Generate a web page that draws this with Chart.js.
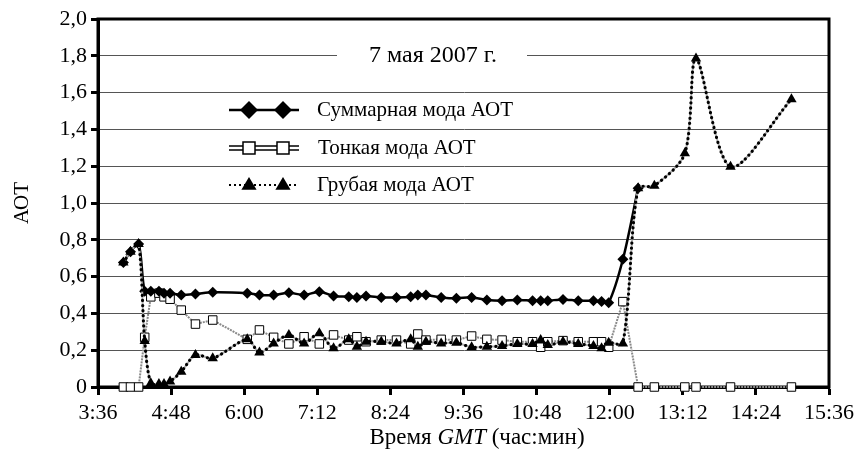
<!DOCTYPE html>
<html>
<head>
<meta charset="utf-8">
<script src="https://cdn.jsdelivr.net/npm/chart.js@4"></script>
<style>
html, body { margin: 0; padding: 0; background: #fff; }
#wrap { width: 863px; height: 453px; }
</style>
</head>
<body>
<div id="wrap"><canvas id="chart" width="863" height="453"></canvas></div>
<script>
// время наблюдений (GMT, час:мин)
const times = ['4:01', '4:08', '4:16', '4:22', '4:28', '4:36', '4:41', '4:47', '4:58', '5:12',
    '5:29', '6:03', '6:15', '6:29', '6:44', '6:59', '7:14', '7:28', '7:43', '7:51',
    '8:00', '8:15', '8:30', '8:44', '8:51', '8:59', '9:14', '9:29', '9:44', '9:59',
    '10:14', '10:29', '10:44', '10:52', '10:59', '11:14', '11:29', '11:44', '11:52', '11:59',
    '12:13', '12:28', '12:44', '13:14', '13:25', '13:59', '14:59'];

const totalAot = [0.676, 0.735, 0.777, 0.52, 0.52, 0.52, 0.51, 0.51, 0.50, 0.505,
    0.515, 0.51, 0.50, 0.50, 0.512, 0.50, 0.518, 0.495, 0.491, 0.487,
    0.495, 0.487, 0.487, 0.491, 0.50, 0.50, 0.487, 0.482, 0.487, 0.473,
    0.469, 0.473, 0.469, 0.469, 0.469, 0.476, 0.469, 0.469, 0.464, 0.458,
    0.694, 1.08, null, null, null, null, null];

const fineAot = [0, 0, 0, 0.27, 0.49, 0.51, 0.49, 0.477, 0.418, 0.342,
    0.364, 0.259, 0.31, 0.27, 0.234, 0.273, 0.234, 0.283, 0.255, 0.273,
    0.246, 0.255, 0.255, 0.234, 0.288, 0.255, 0.259, 0.255, 0.277, 0.259,
    0.255, 0.246, 0.246, 0.216, 0.246, 0.252, 0.246, 0.246, 0.246, 0.216,
    0.464, 0, 0, 0, 0, 0, 0];

const coarseAot = [0.676, 0.735, 0.777, 0.25, 0.02, 0.016, 0.016, 0.03, 0.083, 0.174,
    0.156, 0.259, 0.187, 0.237, 0.283, 0.237, 0.292, 0.21, 0.259, 0.219,
    0.246, 0.246, 0.237, 0.259, 0.219, 0.246, 0.237, 0.241, 0.216, 0.219,
    0.223, 0.234, 0.234, 0.255, 0.228, 0.246, 0.234, 0.223, 0.21, 0.241,
    0.237, 1.08, 1.094, 1.27, 1.786, 1.197, 1.564];

const xTickLabels = ['3:36', '4:48', '6:00', '7:12', '8:24', '9:36', '10:48', '12:00', '13:12', '14:24', '15:36'];
const yTickLabels = ['0', '0,2', '0,4', '0,6', '0,8', '1,0', '1,2', '1,4', '1,6', '1,8', '2,0'];

const seriesNames = ['Суммарная мода АОТ', 'Тонкая мода АОТ', 'Грубая мода АОТ'];
const chartTitle = '7 мая 2007 г.';

const FONT = '"Liberation Serif", "Times New Roman", serif';

const toMinutes = (t) => {
    const [h, m] = t.split(':').map(Number);
    return h * 60 + m;
};
const fmtTime = (v) => {
    const m = Math.round(v);
    return Math.floor(m / 60) + ':' + String(m % 60).padStart(2, '0');
};
const toPoints = (values) => times.map((t, i) => ({ x: toMinutes(t), y: values[i] }));

// рамка вокруг области построения
const frame = {
    id: 'frame',
    beforeDatasetsDraw(chart) {
        const { ctx, chartArea: a } = chart;
        ctx.save();
        ctx.strokeStyle = '#000';
        ctx.lineWidth = 3;
        ctx.strokeRect(a.left, a.top, a.right - a.left, a.bottom - a.top);
        ctx.restore();
    },
    // серая подложка под точечной линией грубой моды
    beforeDatasetDraw(chart, args) {
        if (args.index !== 2) return;
        const line = args.meta.dataset;
        const ctx = chart.ctx;
        line.updateControlPoints(chart.chartArea, 'x');
        ctx.save();
        ctx.beginPath();
        line.path(ctx);
        ctx.strokeStyle = '#b0b0b0';
        ctx.lineWidth = 2;
        ctx.stroke();
        ctx.restore();
    }
};

const drawDiamond = (ctx, x, y, r) => {
    ctx.beginPath();
    ctx.moveTo(x, y - r); ctx.lineTo(x + r, y); ctx.lineTo(x, y + r); ctx.lineTo(x - r, y);
    ctx.closePath();
    ctx.fillStyle = '#000';
    ctx.fill();
};
const drawSquare = (ctx, x, y, s) => {
    ctx.fillStyle = '#fff';
    ctx.fillRect(x - s / 2, y - s / 2, s, s);
    ctx.strokeStyle = '#000';
    ctx.lineWidth = 1.5;
    ctx.strokeRect(x - s / 2, y - s / 2, s, s);
};
const drawTriangle = (ctx, x, y, r) => {
    ctx.beginPath();
    ctx.moveTo(x, y - r);
    ctx.lineTo(x + r * 0.95, y + r * 0.6);
    ctx.lineTo(x - r * 0.95, y + r * 0.6);
    ctx.closePath();
    ctx.fillStyle = '#000';
    ctx.fill();
};

// заголовок, легенда и подписи осей
const annotations = {
    id: 'annotations',
    afterDraw(chart) {
        const ctx = chart.ctx;
        const a = chart.chartArea;
        ctx.save();

        // заголовок на белой плашке
        ctx.fillStyle = '#fff';
        ctx.fillRect(337, 40, 190, 31);
        ctx.fillStyle = '#000';
        ctx.font = '24px ' + FONT;
        ctx.textAlign = 'center';
        ctx.textBaseline = 'middle';
        ctx.fillText(chartTitle, 433, 56);

        // легенда
        const x0 = 229, x1 = 299, m1 = 249, m2 = 283, tx = 317;
        const rows = [110, 148, 185];
        ctx.textAlign = 'left';
        ctx.font = '21px ' + FONT;

        let y = rows[0];
        ctx.strokeStyle = '#000';
        ctx.lineWidth = 2.5;
        ctx.beginPath(); ctx.moveTo(x0, y); ctx.lineTo(x1, y); ctx.stroke();
        drawDiamond(ctx, m1, y, 9);
        drawDiamond(ctx, m2, y, 9);
        ctx.fillStyle = '#000';
        ctx.fillText(seriesNames[0], tx, y);

        y = rows[1];
        ctx.lineWidth = 1.3;
        ctx.beginPath();
        ctx.moveTo(x0, y - 2); ctx.lineTo(x1, y - 2);
        ctx.moveTo(x0, y + 2); ctx.lineTo(x1, y + 2);
        ctx.stroke();
        drawSquare(ctx, m1, y, 12);
        drawSquare(ctx, m2, y, 12);
        ctx.fillStyle = '#000';
        ctx.fillText(seriesNames[1], tx + 1, y);

        y = rows[2];
        ctx.lineWidth = 2;
        ctx.setLineDash([2, 3]);
        ctx.beginPath(); ctx.moveTo(x0, y); ctx.lineTo(x1, y); ctx.stroke();
        ctx.setLineDash([]);
        drawTriangle(ctx, m1, y, 8);
        drawTriangle(ctx, m2, y, 8);
        ctx.fillStyle = '#000';
        ctx.fillText(seriesNames[2], tx, y);

        // подпись оси X: «Время GMT (час:мин)», GMT курсивом
        const parts = [['Время ', 'normal'], ['GMT', 'italic'], [' (час:мин)', 'normal']];
        let w = 0;
        parts.forEach(([s, st]) => { ctx.font = st + ' 23px ' + FONT; w += ctx.measureText(s).width; });
        let px = 477 - w / 2;
        ctx.textBaseline = 'middle';
        parts.forEach(([s, st]) => {
            ctx.font = st + ' 23px ' + FONT;
            ctx.fillText(s, px, 438);
            px += ctx.measureText(s).width;
        });

        // подпись оси Y
        ctx.translate(22, (a.top + a.bottom) / 2);
        ctx.rotate(-Math.PI / 2);
        ctx.textAlign = 'center';
        ctx.font = '21px ' + FONT;
        ctx.fillText('АОТ', 0, 0);
        ctx.restore();
    }
};

Chart.defaults.font.family = FONT;
Chart.defaults.color = '#000';

new Chart(document.getElementById('chart').getContext('2d'), {
    type: 'line',
    data: {
        datasets: [{
            label: seriesNames[0],
            data: toPoints(totalAot),
            borderColor: '#000',
            borderWidth: 2.5,
            tension: 0.3,
            pointStyle: 'rectRot',
            pointRadius: 5.5,
            pointBackgroundColor: '#000',
            pointBorderColor: '#000',
            pointBorderWidth: 0,
            clip: 10,
            order: 1
        }, {
            label: seriesNames[1],
            data: toPoints(fineAot),
            borderColor: '#8a8a8a',
            borderWidth: 2,
            borderDash: [2, 1],
            tension: 0,
            pointStyle: 'rect',
            pointRadius: 6,
            pointBackgroundColor: '#fff',
            pointBorderColor: '#000',
            pointBorderWidth: 1,
            clip: 10,
            order: 2
        }, {
            label: seriesNames[2],
            data: toPoints(coarseAot),
            borderColor: '#000',
            borderWidth: 3.2,
            borderDash: [0.1, 5],
            borderCapStyle: 'round',
            tension: 0.3,
            pointStyle: 'triangle',
            pointRadius: 6,
            pointBackgroundColor: '#000',
            pointBorderColor: '#000',
            pointBorderWidth: 0,
            clip: 10,
            order: 0
        }]
    },
    options: {
        responsive: false,
        animation: false,
        events: [],
        layout: { padding: { left: 0, right: 34, top: 19, bottom: 0 } },
        plugins: {
            legend: { display: false },
            tooltip: { enabled: false },
            title: { display: false }
        },
        scales: {
            x: {
                type: 'linear',
                min: toMinutes(xTickLabels[0]),
                max: toMinutes(xTickLabels[xTickLabels.length - 1]),
                afterBuildTicks: (scale) => {
                    scale.ticks = xTickLabels.map(t => ({ value: toMinutes(t) }));
                },
                afterFit: (scale) => { scale.height = 66; },
                ticks: {
                    callback: (v) => fmtTime(v),
                    font: { size: 22 },
                    color: '#000',
                    padding: 5,
                    maxRotation: 0,
                    autoSkip: false
                },
                grid: {
                    drawOnChartArea: false,
                    drawTicks: true,
                    tickLength: 8,
                    tickWidth: 3,
                    tickColor: '#000'
                },
                border: { display: true, color: '#000', width: 3 }
            },
            y: {
                min: 0,
                max: 2,
                afterFit: (scale) => { scale.width = 98; },
                ticks: {
                    stepSize: 0.2,
                    callback: (v, i) => yTickLabels[i],
                    font: { size: 22 },
                    color: '#000',
                    padding: 4
                },
                grid: {
                    color: '#555',
                    lineWidth: 1,
                    tickLength: 7,
                    tickWidth: 3,
                    tickColor: '#000'
                },
                border: { display: true, color: '#000', width: 3 }
            }
        }
    },
    plugins: [frame, annotations]
});
</script>
</body>
</html>
